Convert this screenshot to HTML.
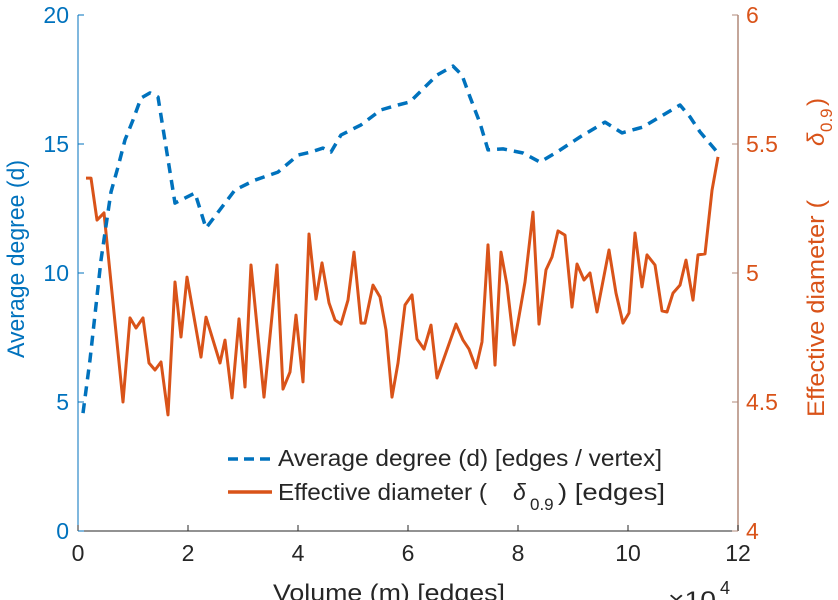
<!DOCTYPE html>
<html><head><meta charset="utf-8"><style>
body{margin:0;background:#fff;}
svg{display:block;font-family:"Liberation Sans",sans-serif;}
</style></head><body>
<svg id="chart" width="838" height="600" viewBox="0 0 838 600">
<g id="axes"></g><g id="series"></g>
<g>
 <line x1="228" y1="459" x2="272" y2="459" stroke="#0072BD" stroke-width="3.5" stroke-dasharray="10,6"/>
 <text x="278" y="466" font-size="23" fill="#262626" textLength="384" lengthAdjust="spacingAndGlyphs">Average degree (d) [edges / vertex]</text>
 <line x1="228" y1="492" x2="272" y2="492" stroke="#D95319" stroke-width="3.5"/>
 <g>
  <text x="278" y="500" font-size="23" fill="#262626" textLength="209" lengthAdjust="spacingAndGlyphs">Effective diameter (</text>
  <text x="513" y="500" font-size="23" fill="#262626" font-style="italic">δ</text>
  <text x="530" y="510" font-size="17" fill="#262626">0.9</text>
  <text x="558" y="500" font-size="23" fill="#262626" textLength="107" lengthAdjust="spacingAndGlyphs">) [edges]</text>
 </g>
</g>
<text x="273" y="601" font-size="24" fill="#262626" textLength="232" lengthAdjust="spacingAndGlyphs">Volume (m) [edges]</text>
<text x="668" y="608" font-size="24" fill="#262626" textLength="48" lengthAdjust="spacingAndGlyphs">×10</text>
<text x="720" y="594" font-size="18" fill="#262626">4</text>
<text transform="translate(24,358) rotate(-90)" font-size="24" fill="#0072BD" textLength="198" lengthAdjust="spacingAndGlyphs">Average degree (d)</text>
<g>
 <text transform="translate(824,417) rotate(-90)" font-size="24" fill="#D95319" textLength="217" lengthAdjust="spacingAndGlyphs">Effective diameter (</text>
 <text transform="translate(824,146) rotate(-90)" font-size="24" fill="#D95319" font-style="italic">δ</text>
 <text transform="translate(832,132) rotate(-90)" font-size="17" fill="#D95319">0.9</text>
 <text transform="translate(824,106) rotate(-90)" font-size="24" fill="#D95319">)</text>
</g>
</svg>
<script>
const xTicks=[0,2,4,6,8,10,12];
const leftTicks=[0,5,10,15,20];
const rightTicks=[4,4.5,5,5.5,6];
const rightTickLabels=["4","4.5","5","5.5","6"];
const degreeX=[0.091,0.218,0.418,0.545,0.6,0.727,0.855,1.0,1.145,1.309,1.455,1.764,2.127,2.327,2.855,3.218,3.636,4.0,4.236,4.455,4.6,4.782,5.145,5.509,5.818,6.036,6.527,6.818,6.982,7.127,7.309,7.455,7.727,8.091,8.4,8.709,9.127,9.582,9.891,10.273,10.636,10.945,11.127,11.309,11.636];
const degreeY=[4.57,6.63,10.5,12.36,13.14,14.11,15.16,15.93,16.78,16.98,16.82,12.71,13.1,11.74,13.22,13.6,13.91,14.57,14.69,14.84,14.69,15.35,15.74,16.32,16.51,16.63,17.67,18.02,17.67,16.82,15.81,14.77,14.81,14.65,14.3,14.69,15.27,15.85,15.43,15.66,16.12,16.51,16.05,15.47,14.65];
const diamX=[0.145,0.236,0.345,0.473,0.818,0.945,1.055,1.182,1.291,1.4,1.509,1.636,1.764,1.873,1.982,2.236,2.327,2.582,2.673,2.8,2.927,3.036,3.145,3.382,3.618,3.727,3.855,3.964,4.091,4.2,4.327,4.436,4.564,4.673,4.782,4.909,5.018,5.145,5.218,5.364,5.491,5.6,5.709,5.818,5.945,6.073,6.164,6.291,6.418,6.527,6.873,7.0,7.109,7.236,7.345,7.455,7.582,7.691,7.8,7.927,8.127,8.273,8.382,8.509,8.618,8.727,8.855,8.982,9.073,9.2,9.309,9.436,9.655,9.782,9.909,10.018,10.127,10.255,10.345,10.491,10.618,10.709,10.818,10.945,11.055,11.182,11.273,11.4,11.527,11.636];
const diamY=[5.368,5.368,5.205,5.233,4.5,4.826,4.787,4.826,4.651,4.624,4.655,4.45,4.965,4.752,4.984,4.674,4.829,4.651,4.74,4.516,4.822,4.558,5.031,4.519,5.031,4.55,4.616,4.837,4.578,5.151,4.899,5.039,4.884,4.818,4.802,4.895,5.081,4.806,4.806,4.953,4.907,4.779,4.519,4.651,4.876,4.915,4.744,4.705,4.798,4.593,4.802,4.74,4.705,4.632,4.733,5.109,4.643,5.081,4.953,4.721,4.965,5.236,4.802,5.012,5.062,5.163,5.147,4.868,5.035,4.973,5.0,4.849,5.089,4.922,4.806,4.845,5.155,4.946,5.07,5.031,4.853,4.849,4.922,4.953,5.05,4.895,5.07,5.074,5.32,5.45];

const L=78,R=738,T=15,B=531;
const xs=v=>L+(v/12)*(R-L);
const yl=v=>B-(v/20)*(B-T);
const yr=v=>B-((v-4)/2)*(B-T);
const NS="http://www.w3.org/2000/svg";
const ax=document.getElementById('axes'), se=document.getElementById('series');
function mk(tag,attrs,parent){const e=document.createElementNS(NS,tag);for(const k in attrs)e.setAttribute(k,attrs[k]);parent.appendChild(e);return e;}

let e=mk('line',{x1:L,y1:B,x2:R,y2:B,stroke:'#262626','stroke-width':1},ax);


e=mk('line',{x1:L,y1:T,x2:L,y2:B,stroke:'#0072BD','stroke-width':1},ax);


e=mk('line',{x1:R,y1:T,x2:R,y2:B,stroke:'#b08878','stroke-width':1.5},ax);



xTicks.forEach(t=>{
 const x=xs(t);
 mk('line',{x1:x,y1:B,x2:x,y2:B-6,stroke:'#262626'},ax);
 const tx=mk('text',{x:x,y:B+30,'font-size':23,fill:'#262626','text-anchor':'middle'},ax);
 tx.textContent=t;
 
 
});
leftTicks.forEach(t=>{
 const y=yl(t);
 mk('line',{x1:L,y1:y,x2:L+6,y2:y,stroke:'#0072BD'},ax);
 const tx=mk('text',{x:L-9,y:y+8,'font-size':23,fill:'#0072BD','text-anchor':'end'},ax);
 tx.textContent=t;
 
 
});
rightTicks.forEach((t,i)=>{
 const y=yr(t);
 mk('line',{x1:R,y1:y,x2:R-6,y2:y,stroke:'#b08878'},ax);
 const tx=mk('text',{x:R+8,y:y+8,'font-size':23,fill:'#D95319'},ax);
 tx.textContent=rightTickLabels[i];
 
 
});

const dPts=diamX.map((x,i)=>xs(x).toFixed(1)+','+yr(diamY[i]).toFixed(1)).join(' ');
e=mk('polyline',{points:dPts,fill:'none',stroke:'#D95319','stroke-width':3,'stroke-linejoin':'round'},se);


const gPts=degreeX.map((x,i)=>xs(x).toFixed(1)+','+yl(degreeY[i]).toFixed(1)).join(' ');
e=mk('polyline',{points:gPts,fill:'none',stroke:'#0072BD','stroke-width':3.5,'stroke-dasharray':'10,7','stroke-linejoin':'round'},se);


</script>
</body></html>
